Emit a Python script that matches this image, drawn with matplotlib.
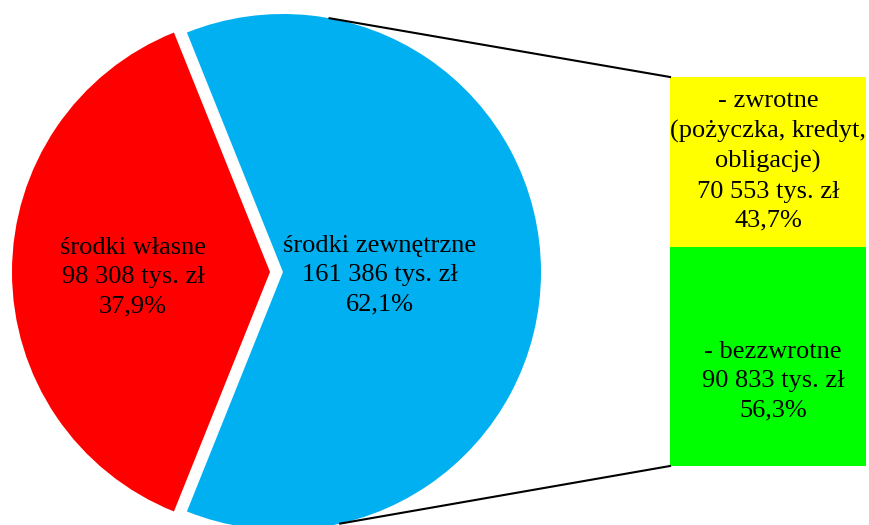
import numpy as np
import matplotlib.pyplot as plt

# source of funding, thousands PLN
pie_labels = ["środki własne", "środki zewnętrzne"]
pie_values = [98308, 161386]
pie_pct = ["37,9%", "62,1%"]

bar_labels = ["- bezzwrotne", "- zwrotne\n(pożyczka, kredyt,\nobligacje)"]
bar_values = [90833, 70553]
bar_pct = ["56,3%", "43,7%"]

plt.rcParams['font.family'] = ['Liberation Serif', 'DejaVu Serif']

W, H = 869, 525
fig = plt.figure(figsize=(W / 100, H / 100), dpi=100)
ax = fig.add_axes([0, 0, 1, 1])

cx, cy, r = 283, 253, 258
frac_own = pie_values[0] / sum(pie_values)
start = 180 - frac_own * 180
# explode is given in data units (pixels here)
ax.pie(pie_values, center=(cx, cy), radius=r, explode=[13, 0],
       startangle=start, colors=["#FF0000", "#00B0F0"],
       wedgeprops=dict(linewidth=0))

# stacked bar for the external funds
bx, bw, bbot, bh = 670, 196, 59, 389
total = sum(bar_values)
heights = [v / total * bh for v in bar_values]
ax.bar(bx, heights[0], width=bw, bottom=bbot, align='edge', color="#00FF00", linewidth=0)
ax.bar(bx, heights[1], width=bw, bottom=bbot + heights[0], align='edge', color="#FFFF00", linewidth=0)

# connector lines from pie edge to bar corners
a_top, a_bot = np.radians(79.6), np.radians(-77.2)
ax.plot([cx + r * np.cos(a_top), bx], [cy + r * np.sin(a_top), bbot + bh], color="black", lw=1.5)
ax.plot([cx + r * np.cos(a_bot), bx], [cy + r * np.sin(a_bot), bbot], color="black", lw=1.5)

def fmt(v):
    return f"{v:,}".replace(",", " ") + " tys. zł"

fs = 19
ls = 1.42
ax.text(133, H - 277, f"{pie_labels[0]}\n{fmt(pie_values[0])}\n{pie_pct[0]}",
        ha='center', va='center', fontsize=fs, linespacing=ls)
ax.text(380, H - 275, f"{pie_labels[1]}\n{fmt(pie_values[1])}\n{pie_pct[1]}",
        ha='center', va='center', fontsize=fs, linespacing=ls)
ax.text(773, H - 381, f"{bar_labels[0]}\n{fmt(bar_values[0])}\n{bar_pct[0]}",
        ha='center', va='center', fontsize=fs, linespacing=ls)
ax.text(768, H - 161, f"{bar_labels[1]}\n{fmt(bar_values[1])}\n{bar_pct[1]}",
        ha='center', va='center', fontsize=fs, linespacing=ls)

ax.set_xlim(0, W)
ax.set_ylim(0, H)
ax.set_aspect('auto')
ax.axis('off')

fig.savefig("out.png", dpi=100)
